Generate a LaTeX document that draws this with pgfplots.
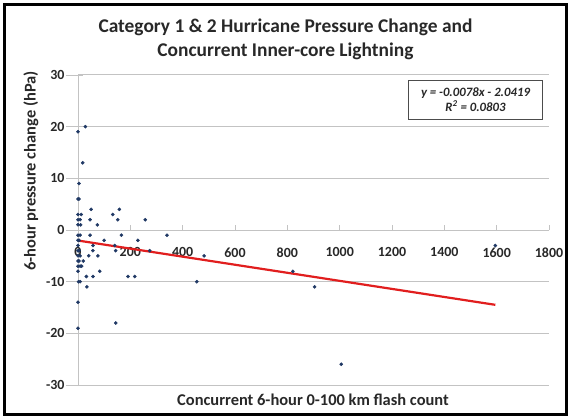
\documentclass[border=0pt]{standalone}
\usepackage{fontspec}
\setmainfont{Carlito}
\usepackage{pgfplots}
\pgfplotsset{compat=1.18}
\definecolor{dotblue}{RGB}{31,56,100}
\definecolor{trendred}{RGB}{225,30,30}
\definecolor{gridgray}{RGB}{195,195,195}
\definecolor{txt}{RGB}{40,40,40}
\begin{document}
\begin{tikzpicture}[x=1bp,y=1bp]
\path[use as bounding box] (0,0) rectangle (571,419);
\draw[line width=3bp] (4.5,4.5) rectangle (566.5,414.5);
\begin{axis}[
  at={(78bp,34bp)}, anchor=south west,
  scale only axis, width=471bp, height=310bp,
  xmin=0, xmax=1800, ymin=-30, ymax=30,
  axis x line=middle, axis y line=left,
  axis line style={-, draw=gridgray, line width=1bp},
  xtick={0,200,...,1800}, ytick={-30,-20,...,30},
  hide obscured x ticks=false, hide obscured y ticks=false,
  ymajorgrids, grid style={draw=gridgray, line width=1bp},
  major tick length=5bp, tick align=inside,
  tick style={draw=gridgray, line width=0.8bp},
  /pgf/number format/assume math mode=true,
  /pgf/number format/set thousands separator={},
  ticklabel style={font=\bfseries\fontsize{14}{14}\selectfont, text=txt},
  yticklabel shift=10bp,
  xticklabel shift=14bp,
  clip=false,
]
\pgfplotsinvokeforeach{-30,-20,-10,0,10,20,30}{
  \draw[gridgray, line width=0.8bp] (axis cs:0,#1) -- ([xshift=-12bp]axis cs:0,#1);
}
\addplot[only marks, mark=*, mark size=1.6bp, dotblue] coordinates {
(28,20) (0,19) (18,13) (4,9) (0,6) (4,6) (50,4) (158,4)
(0,3) (12,3) (133,3) (0,2) (8,2) (46,2) (152,2) (257,2)
(0,1) (10,1) (74,1)
(0,-1) (8,-1) (46,-1) (166,-1) (340,-1)
(0,-2) (4,-2) (100,-2) (229,-2)
(0,-3) (57,-3) (140,-3) (1595,-3)
(0,-4) (4,-4) (57,-4) (144,-4) (274,-4)
(0,-5) (8,-5) (41,-5) (76,-5) (482,-5)
(0,-6) (4,-6) (20,-6)
(0,-7) (8,-7) (14,-7)
(0,-8) (83,-8) (821,-8)
(32,-9) (57,-9) (191,-9) (217,-9)
(2,-10) (8,-10) (454,-10)
(34,-11) (904,-11)
(0,-14) (144,-18) (0,-19) (1006,-26)
};
\addplot[trendred, line width=2.2bp, no marks] coordinates {(0,-2.0419) (1595,-14.483)};
\end{axis}
\node[font=\bfseries\fontsize{19.5}{19.5}\selectfont, text=txt] at (285.5,392) {Category 1 \& 2 Hurricane Pressure Change and};
\node[font=\bfseries\fontsize{19.5}{19.5}\selectfont, text=txt] at (285.5,368) {Concurrent Inner-core Lightning};
\node[font=\bfseries\fontsize{16.5}{16.5}\selectfont, text=txt] at (313,19) {Concurrent 6-hour 0-100 km flash count};
\node[rotate=90, font=\bfseries\fontsize{16.5}{16.5}\selectfont, text=txt] at (31,248) {6-hour pressure change (hPa)};
\node[draw=black!70, line width=0.8bp, fill=white, align=center, minimum width=134bp, minimum height=39bp, inner sep=1bp,
  font=\bfseries\itshape\fontsize{12.8}{15}\selectfont, text=txt] at (475.5,319.5) {y = -0.0078x - 2.0419\\R\textsuperscript{2} = 0.0803};
\end{tikzpicture}
\end{document}
